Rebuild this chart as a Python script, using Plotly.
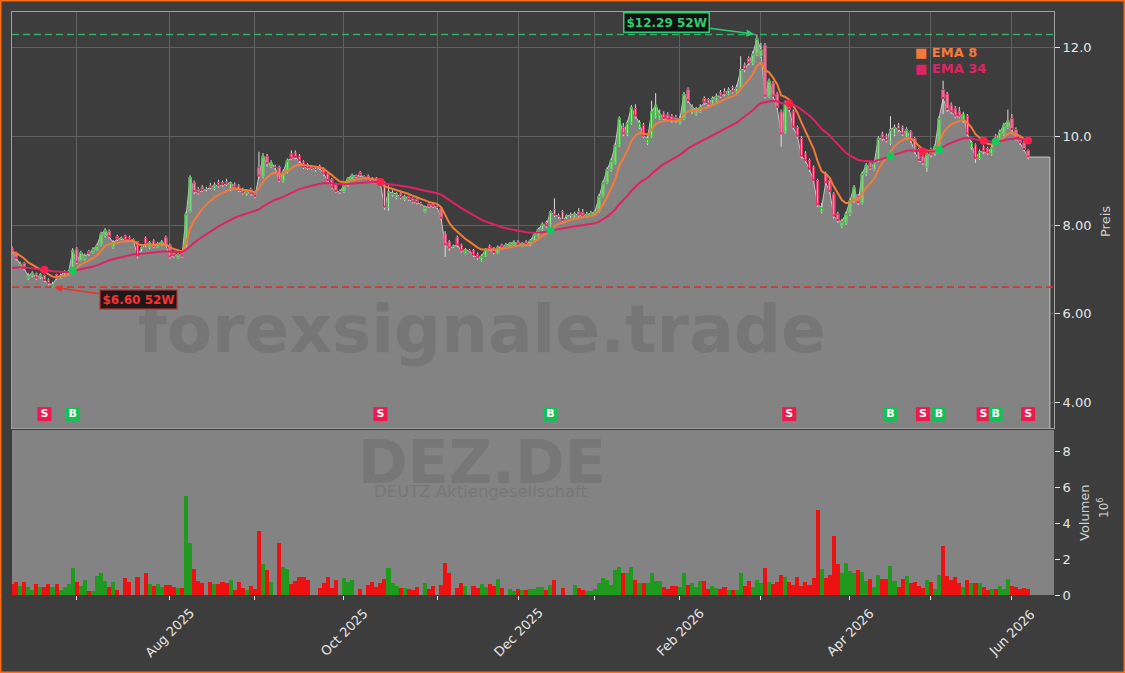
import pandas as pd
import plotly.graph_objects as go

W, H = 1125, 673
FONT = "DejaVu Sans"

# ---------------- data ----------------
first_day = "2025-06-09"
last_day = "2026-06-05"
holidays = ["2025-12-24", "2025-12-25", "2025-12-26", "2025-12-31",
            "2026-01-01", "2026-04-03", "2026-04-06", "2026-05-01"]

open_prices = [
    7.48, 7.38, 7.06, 7.14, 6.80, 6.86, 6.90, 6.82, 6.86, 6.76,
    6.61, 6.88, 6.80, 6.86, 6.88, 6.96, 7.46, 7.20, 7.24, 7.40,
    7.38, 7.44, 7.55, 7.76, 7.86, 7.50, 7.74, 7.70, 7.75, 7.72,
    7.66, 7.62, 7.48, 7.70, 7.50, 7.64, 7.50, 7.55, 7.72, 7.55,
    7.38, 7.26, 7.38, 7.45, 8.30, 8.95, 8.80, 8.85, 8.80, 8.88,
    8.82, 8.96, 8.95, 8.97, 8.80, 8.92, 8.88, 8.80, 8.70, 8.80,
    8.72, 9.30, 9.10, 9.55, 9.32, 9.30, 9.30, 9.00, 9.20, 9.60,
    9.62, 9.55, 9.42, 9.35, 9.28, 9.25, 9.32, 9.25, 9.15, 9.02,
    8.92, 8.75, 8.75, 8.90, 9.02, 9.10, 9.18, 9.08, 9.10, 9.05,
    9.05, 9.02, 8.95, 8.40, 8.68, 8.62, 8.70, 8.58, 8.64, 8.60,
    8.58, 8.48, 8.30, 8.48, 8.48, 8.40, 8.38, 7.80, 7.62, 7.52,
    7.72, 7.55, 7.36, 7.42, 7.42, 7.34, 7.20, 7.30, 7.52, 7.48,
    7.36, 7.55, 7.55, 7.50, 7.55, 7.62, 7.52, 7.62, 7.55, 7.65,
    7.75, 7.90, 8.05, 8.00, 8.35, 8.20, 8.30, 8.20, 8.22, 8.15,
    8.30, 8.28, 8.18, 8.20, 8.22, 8.30, 8.65, 8.95, 9.25, 9.40,
    9.80, 10.20, 10.05, 10.30, 10.62, 10.20, 10.25, 9.85, 10.00, 10.45,
    10.40, 10.50, 10.48, 10.45, 10.42, 10.30, 10.40, 11.05, 10.55, 10.50,
    10.55, 10.85, 10.82, 10.72, 10.80, 10.98, 11.00, 10.95, 11.10, 11.00,
    11.10, 11.60, 11.75, 11.65, 11.85, 11.80, 12.05, 10.90, 11.20, 10.95,
    10.55, 10.10, 10.80, 10.55, 10.20, 9.95, 9.60, 9.45, 9.30, 9.00,
    8.30, 9.15, 9.00, 8.70, 8.25, 7.98, 8.05, 8.25, 8.55, 8.65,
    8.50, 9.15, 9.40, 9.25, 9.45, 10.05, 10.00, 9.85, 10.05, 10.25,
    10.20, 9.95, 10.10, 9.95, 9.70, 9.55, 9.30, 9.70, 9.60, 9.80,
    11.05, 10.95, 10.70, 10.62, 10.55, 10.35, 10.45, 9.75, 9.80, 9.50,
    9.75, 9.72, 9.60, 10.00, 9.95, 10.05, 10.20, 10.40, 10.15, 9.95,
    9.85, 9.68,
]

high_prices = [
    7.52, 7.40, 7.18, 7.16, 6.92, 6.96, 6.93, 6.92, 6.88, 6.80,
    6.72, 6.90, 6.90, 6.98, 6.98, 7.48, 7.50, 7.42, 7.36, 7.44,
    7.50, 7.58, 7.85, 7.93, 7.90, 7.66, 7.78, 7.74, 7.78, 7.76,
    7.70, 7.64, 7.52, 7.74, 7.64, 7.68, 7.62, 7.66, 7.76, 7.58,
    7.42, 7.38, 7.42, 8.30, 9.12, 9.00, 8.86, 8.90, 8.86, 8.95,
    8.96, 9.02, 9.00, 9.04, 8.98, 8.96, 8.92, 8.84, 8.80, 8.84,
    8.76, 9.65, 9.62, 9.60, 9.46, 9.36, 9.34, 9.25, 9.50, 9.68,
    9.68, 9.60, 9.46, 9.40, 9.32, 9.30, 9.36, 9.30, 9.18, 9.06,
    8.95, 8.80, 8.94, 9.08, 9.16, 9.14, 9.22, 9.12, 9.14, 9.08,
    9.08, 9.05, 8.98, 8.92, 8.78, 8.74, 8.74, 8.68, 8.66, 8.62,
    8.60, 8.52, 8.44, 8.52, 8.52, 8.44, 8.40, 7.86, 7.66, 7.56,
    7.76, 7.58, 7.48, 7.46, 7.46, 7.38, 7.34, 7.48, 7.56, 7.50,
    7.54, 7.58, 7.60, 7.62, 7.66, 7.66, 7.62, 7.66, 7.68, 7.82,
    7.94, 8.06, 8.10, 8.34, 8.60, 8.26, 8.34, 8.24, 8.28, 8.30,
    8.38, 8.36, 8.30, 8.32, 8.34, 8.70, 9.00, 9.30, 9.50, 9.85,
    10.45, 10.30, 10.35, 10.70, 10.72, 10.36, 10.30, 10.00, 10.80, 10.97,
    10.60, 10.56, 10.54, 10.50, 10.48, 10.46, 11.00, 11.10, 10.72, 10.66,
    10.72, 10.90, 10.86, 10.90, 10.96, 11.04, 11.08, 11.10, 11.14, 11.16,
    11.80, 11.66, 11.80, 11.92, 12.29, 12.10, 12.10, 11.30, 11.24, 11.00,
    10.60, 10.80, 10.84, 10.60, 10.24, 10.00, 9.66, 9.50, 9.34, 9.04,
    8.50, 9.20, 9.04, 8.74, 8.30, 8.14, 8.30, 8.60, 8.90, 8.70,
    9.20, 9.40, 9.44, 9.45, 10.00, 10.10, 10.06, 10.45, 10.26, 10.30,
    10.24, 10.20, 10.14, 9.98, 9.74, 9.60, 9.65, 9.74, 9.82, 10.45,
    11.25, 11.00, 10.76, 10.68, 10.66, 10.55, 10.50, 9.90, 9.84, 9.70,
    9.80, 9.76, 9.80, 10.05, 10.15, 10.30, 10.60, 10.50, 10.20, 10.00,
    9.90, 9.70,
]

low_prices = [
    7.36, 7.20, 7.02, 6.98, 6.76, 6.82, 6.76, 6.78, 6.72, 6.64,
    6.60, 6.76, 6.78, 6.84, 6.86, 6.92, 7.12, 7.18, 7.20, 7.30,
    7.35, 7.42, 7.52, 7.72, 7.70, 7.46, 7.64, 7.66, 7.62, 7.62,
    7.62, 7.25, 7.40, 7.50, 7.46, 7.48, 7.48, 7.52, 7.52, 7.24,
    7.26, 7.24, 7.26, 7.42, 8.28, 8.70, 8.68, 8.74, 8.76, 8.80,
    8.78, 8.84, 8.86, 8.88, 8.76, 8.82, 8.74, 8.68, 8.66, 8.66,
    8.60, 9.05, 9.05, 9.32, 9.28, 9.24, 8.96, 8.96, 9.16, 9.46,
    9.48, 9.40, 9.26, 9.24, 9.24, 9.20, 9.24, 9.10, 8.96, 8.82,
    8.72, 8.70, 8.72, 8.86, 9.00, 9.06, 9.08, 9.04, 8.96, 8.96,
    8.94, 8.90, 8.34, 8.32, 8.64, 8.58, 8.58, 8.54, 8.54, 8.48,
    8.46, 8.44, 8.28, 8.38, 8.38, 8.36, 8.10, 7.28, 7.42, 7.48,
    7.50, 7.38, 7.34, 7.38, 7.28, 7.22, 7.17, 7.28, 7.42, 7.34,
    7.34, 7.46, 7.52, 7.48, 7.52, 7.52, 7.50, 7.52, 7.52, 7.62,
    7.72, 7.86, 7.94, 7.96, 8.18, 8.14, 8.06, 8.14, 8.16, 8.12,
    8.18, 8.16, 8.16, 8.18, 8.20, 8.28, 8.62, 8.92, 9.20, 9.36,
    9.76, 10.00, 10.00, 10.26, 10.40, 10.16, 9.96, 9.80, 9.96, 10.40,
    10.36, 10.36, 10.34, 10.30, 10.30, 10.26, 10.36, 10.75, 10.50, 10.46,
    10.52, 10.70, 10.66, 10.68, 10.76, 10.86, 10.90, 10.92, 10.96, 10.96,
    11.06, 11.44, 11.60, 11.60, 11.80, 11.76, 10.85, 10.86, 10.86, 10.60,
    9.76, 10.06, 10.55, 10.15, 9.95, 9.50, 9.40, 9.20, 8.96, 8.40,
    8.26, 8.92, 8.70, 8.15, 8.05, 7.93, 8.00, 8.20, 8.50, 8.45,
    8.46, 9.10, 9.24, 9.22, 9.42, 9.90, 9.86, 9.80, 10.00, 10.10,
    10.00, 9.92, 9.86, 9.60, 9.42, 9.35, 9.20, 9.52, 9.56, 9.76,
    10.50, 10.55, 10.50, 10.40, 10.40, 10.30, 10.00, 9.70, 9.40, 9.46,
    9.60, 9.58, 9.56, 9.88, 9.90, 10.00, 10.16, 10.10, 9.90, 9.80,
    9.66, 9.48,
]

close_prices = [
    7.40, 7.25, 7.12, 7.02, 6.85, 6.92, 6.80, 6.88, 6.75, 6.68,
    6.66, 6.80, 6.86, 6.94, 6.95, 7.42, 7.16, 7.38, 7.30, 7.35,
    7.45, 7.54, 7.80, 7.88, 7.74, 7.60, 7.68, 7.70, 7.66, 7.66,
    7.66, 7.30, 7.48, 7.55, 7.60, 7.52, 7.58, 7.62, 7.55, 7.28,
    7.30, 7.34, 7.30, 8.25, 9.08, 8.75, 8.72, 8.78, 8.80, 8.84,
    8.90, 8.88, 8.90, 8.92, 8.95, 8.85, 8.78, 8.72, 8.76, 8.70,
    8.64, 9.10, 9.55, 9.38, 9.40, 9.30, 9.00, 9.20, 9.45, 9.50,
    9.52, 9.45, 9.30, 9.28, 9.28, 9.25, 9.28, 9.15, 9.00, 8.85,
    8.75, 8.75, 8.90, 9.05, 9.12, 9.10, 9.12, 9.08, 9.00, 9.00,
    8.98, 8.95, 8.40, 8.75, 8.72, 8.70, 8.62, 8.65, 8.58, 8.52,
    8.50, 8.48, 8.40, 8.42, 8.42, 8.40, 8.15, 7.55, 7.48, 7.52,
    7.55, 7.42, 7.44, 7.42, 7.32, 7.26, 7.30, 7.45, 7.45, 7.38,
    7.50, 7.50, 7.55, 7.58, 7.62, 7.56, 7.58, 7.56, 7.65, 7.78,
    7.90, 8.02, 7.98, 8.30, 8.22, 8.20, 8.10, 8.20, 8.22, 8.25,
    8.22, 8.20, 8.24, 8.26, 8.30, 8.65, 8.95, 9.25, 9.45, 9.80,
    10.40, 10.05, 10.30, 10.65, 10.45, 10.30, 10.00, 9.95, 10.55, 10.70,
    10.50, 10.40, 10.38, 10.35, 10.35, 10.40, 10.95, 10.80, 10.65, 10.60,
    10.65, 10.75, 10.72, 10.85, 10.90, 10.90, 10.95, 11.05, 11.00, 11.10,
    11.50, 11.50, 11.65, 11.85, 12.20, 11.95, 10.90, 11.25, 10.90, 10.65,
    10.05, 10.75, 10.60, 10.20, 10.00, 9.55, 9.45, 9.25, 9.00, 8.45,
    8.40, 8.95, 8.75, 8.20, 8.10, 8.08, 8.25, 8.55, 8.85, 8.50,
    9.15, 9.35, 9.28, 9.40, 9.95, 9.95, 9.90, 10.15, 10.20, 10.15,
    10.05, 10.15, 9.90, 9.65, 9.45, 9.40, 9.60, 9.58, 9.78, 10.40,
    10.85, 10.60, 10.55, 10.45, 10.45, 10.50, 10.05, 9.85, 9.50, 9.65,
    9.65, 9.62, 9.75, 9.92, 10.10, 10.25, 10.35, 10.15, 9.95, 9.85,
    9.70, 9.53,
]

volume_mn = [
    0.60, 0.70, 0.50, 0.70, 0.45, 0.30, 0.60, 0.45, 0.45, 0.60,
    0.45, 0.60, 0.30, 0.45, 0.60, 1.50, 0.70, 0.50, 0.85, 0.25,
    0.20, 1.05, 1.25, 0.80, 0.45, 0.75, 0.30, 0.00, 0.95, 0.75,
    0.00, 1.00, 0.00, 1.20, 0.60, 0.50, 0.60, 0.45, 0.55, 0.55,
    0.45, 0.40, 0.40, 5.50, 2.90, 1.45, 0.80, 0.65, 0.00, 0.70,
    0.60, 0.60, 0.70, 0.65, 0.85, 0.30, 0.70, 0.40, 0.30, 0.50,
    0.35, 3.55, 1.70, 1.40, 0.70, 0.00, 2.90, 1.55, 1.45, 0.60,
    0.80, 1.00, 1.00, 0.85, 0.00, 0.00, 0.40, 0.65, 1.00, 0.40,
    0.85, 0.00, 0.95, 0.75, 0.85, 0.00, 0.35, 0.00, 0.55, 0.70,
    0.45, 0.65, 0.90, 1.50, 0.65, 0.50, 0.40, 0.40, 0.35, 0.30,
    0.45, 0.00, 0.65, 0.35, 0.50, 0.00, 0.55, 1.80, 1.25, 0.00,
    0.40, 0.65, 0.50, 0.00, 0.50, 0.40, 0.60, 0.45, 0.60, 0.50,
    0.90, 0.40, 0.00, 0.35, 0.20, 0.35, 0.30, 0.30, 0.35, 0.35,
    0.45, 0.45, 0.30, 0.55, 0.85, 0.00, 0.40, 0.00, 0.00, 0.55,
    0.40, 0.30, 0.25, 0.20, 0.35, 0.65, 0.95, 0.85, 0.55, 1.40,
    1.55, 1.25, 1.20, 1.55, 0.85, 0.65, 0.65, 0.65, 1.25, 0.80,
    0.80, 0.45, 0.35, 0.50, 0.50, 0.45, 1.25, 0.55, 0.65, 0.45,
    0.80, 0.80, 0.35, 0.50, 0.40, 0.35, 0.45, 0.30, 0.30, 0.30,
    1.25, 0.50, 0.80, 0.45, 0.85, 0.65, 1.50, 0.75, 0.60, 0.70,
    1.10, 1.00, 0.70, 0.55, 1.00, 0.50, 0.70, 0.55, 0.95, 4.70,
    1.45, 0.95, 1.10, 3.30, 1.70, 1.20, 1.80, 1.35, 1.25, 1.40,
    1.30, 0.80, 0.90, 0.45, 1.10, 0.90, 0.90, 1.60, 0.80, 0.45,
    0.90, 1.05, 0.65, 0.70, 0.50, 0.40, 0.85, 0.70, 0.35, 1.10,
    2.70, 1.05, 0.85, 1.00, 0.65, 0.45, 0.85, 0.65, 0.65, 0.65,
    0.45, 0.30, 0.35, 0.35, 0.50, 0.35, 0.90, 0.50, 0.45, 0.35,
    0.40, 0.35,
]

# EMA starting levels read at the left edge of the chart
ema8_seed = 7.40
ema34_seed = 7.03

# crossover signals (trading-day index, type)
signal_idx = [8, 15, 91, 133, 192, 217, 225, 229, 240, 243, 251]
signal_type = ["S", "B", "S", "B", "S", "B", "S", "B", "S", "B", "S"]
signal_level = 3.74

month_starts = ["2025-07-01", "2025-08-01", "2025-09-01", "2025-10-01", "2025-11-01",
                "2025-12-01", "2026-01-01", "2026-02-01", "2026-03-01", "2026-04-01",
                "2026-05-01", "2026-06-01"]
month_labels = ["", "Aug 2025", "", "Oct 2025", "", "Dec 2025", "", "Feb 2026", "",
                "Apr 2026", "", "Jun 2026"]

price_ticks = [4, 6, 8, 10, 12]
price_tick_text = ["4.00", "6.00", "8.00", "10.0", "12.0"]
volume_ticks = [0, 2, 4, 6, 8]

# ---------------- derived ----------------
dates = pd.bdate_range(first_day, last_day, freq="C", holidays=holidays) + pd.Timedelta(hours=12)
n = len(close_prices)
assert len(dates) == n == len(open_prices) == len(high_prices) == len(low_prices) == len(volume_mn)


def ema(values, span, seed):
    a = 2.0 / (span + 1)
    out, e = [], seed
    for k, v in enumerate(values):
        if k > 0:
            e = e + a * (v - e)
        out.append(e)
    return out


ema8 = ema(close_prices, 8, ema8_seed)
ema34 = ema(close_prices, 34, ema34_seed)

body_hi = [max(o, c) for o, c in zip(open_prices, close_prices)]
body_lo = [min(o, c) for o, c in zip(open_prices, close_prices)]

BG = "#3d3d3d"
AREA = "#838383"
VOL_G = "#1f9a1f"
VOL_R = "#ee1111"
vol_colors = [VOL_G if c > o else (VOL_R if c < o else AREA)
              for o, c in zip(open_prices, close_prices)]

idx_high = max(range(n), key=lambda k: high_prices[k])
idx_low = min(range(n), key=lambda k: low_prices[k])
high_52w = high_prices[idx_high]
low_52w = low_prices[idx_low]

ext_date = dates[-1] + pd.offsets.BDay(5) + pd.Timedelta(hours=9)
x_start = dates[0]
x_end = dates[-1] + pd.offsets.BDay(6) + pd.Timedelta(hours=9, minutes=30)

tick_dates = []
for m in month_starts:
    pos = dates.searchsorted(pd.Timestamp(m))
    tick_dates.append(dates[pos])

rangebreaks = [dict(bounds=["sat", "mon"]), dict(values=holidays)]
PRICE_RANGE = [3.428, 12.797]

# ---------------- figure ----------------
fig = go.Figure()

# grey close area on the base price axis (drawn beneath everything else)
fig.add_trace(go.Scatter(
    x=list(dates) + [ext_date, ext_date], y=close_prices + [close_prices[-1], 0],
    mode="lines", fill="tozeroy", fillcolor=AREA,
    line=dict(color="#c6c6c6", width=1), xaxis="x", yaxis="y", hoverinfo="skip"))

# candles on an overlaying price axis so they sit above the area
fig.add_trace(go.Candlestick(
    x=dates, open=open_prices, high=high_prices, low=low_prices, close=close_prices,
    increasing=dict(line=dict(color="#dcdcdc", width=1), fillcolor="#dcdcdc"),
    decreasing=dict(line=dict(color="#dcdcdc", width=1), fillcolor="#dcdcdc"),
    xaxis="x", yaxis="y3", hoverinfo="skip"))
fig.add_trace(go.Candlestick(
    x=dates, open=open_prices, high=body_hi, low=body_lo, close=close_prices,
    increasing=dict(line=dict(color="#3cb43c", width=1), fillcolor="#9cf09c"),
    decreasing=dict(line=dict(color="#d8245a", width=1), fillcolor="#ffb0c4"),
    xaxis="x", yaxis="y3", hoverinfo="skip"))

fig.add_trace(go.Scatter(x=dates, y=ema8, mode="lines",
                         line=dict(color="#f47a3a", width=2), xaxis="x", yaxis="y3"))
fig.add_trace(go.Scatter(x=dates, y=ema34, mode="lines",
                         line=dict(color="#de2266", width=2), xaxis="x", yaxis="y3"))

sig_x = [dates[k] for k in signal_idx]
sig_ema = [ema34[k] for k in signal_idx]
sig_col = ["#ff1f4b" if t == "S" else "#14c95a" for t in signal_type]
fig.add_trace(go.Scatter(x=sig_x, y=sig_ema, mode="markers",
                         marker=dict(color=sig_col, size=8, line=dict(width=0)),
                         xaxis="x", yaxis="y3"))
fig.add_trace(go.Scatter(
    x=sig_x, y=[signal_level] * len(sig_x), mode="markers+text",
    marker=dict(symbol="square", size=14,
                color=["#f0184c" if t == "S" else "#12c257" for t in signal_type],
                line=dict(width=0)),
    text=signal_type, textposition="middle center",
    textfont=dict(color="white", size=11, family=FONT, weight="bold"),
    xaxis="x", yaxis="y3"))

fig.add_trace(go.Bar(x=dates, y=volume_mn, marker=dict(color=vol_colors, line=dict(width=0)),
                     width=86400000, xaxis="x2", yaxis="y2"))

xdom = [12 / W, 1054 / W]
y1dom = [1 - 428 / H, 1 - 12 / H]
y2dom = [1 - 595 / H, 1 - 430 / H]
TICKC = "#e6e6e6"
GRID = "#616161"
FRAME = "#a0a0a0"

fig.update_layout(
    width=W, height=H, margin=dict(l=0, r=0, t=0, b=0),
    paper_bgcolor=BG, plot_bgcolor=BG, showlegend=False, hovermode=False,
    font=dict(family=FONT, color=TICKC), bargap=0,
    xaxis=dict(domain=xdom, anchor="y", type="date", range=[x_start, x_end],
               rangebreaks=rangebreaks, rangeslider=dict(visible=False),
               tickvals=tick_dates, showticklabels=False, ticks="",
               showgrid=True, gridcolor=GRID, gridwidth=1, zeroline=False,
               showline=True, mirror=True, linecolor=FRAME, linewidth=1),
    yaxis=dict(domain=y1dom, anchor="x", side="right", range=PRICE_RANGE,
               tickvals=price_ticks, ticktext=price_tick_text, ticks="outside",
               ticklen=5, tickcolor=TICKC, tickfont=dict(size=13, color=TICKC),
               showgrid=True, gridcolor=GRID, zeroline=False,
               showline=True, mirror=True, linecolor=FRAME, linewidth=1, automargin=False),
    yaxis3=dict(overlaying="y", anchor="x", side="right", range=PRICE_RANGE,
                visible=False, showgrid=False, zeroline=False),
    xaxis2=dict(domain=xdom, anchor="y2", type="date", range=[x_start, x_end],
                rangebreaks=rangebreaks, rangeslider=dict(visible=False),
                tickvals=tick_dates, ticktext=[""] * len(tick_dates), ticks="outside",
                ticklen=4, tickcolor=TICKC, showgrid=False, zeroline=False, showline=False),
    yaxis2=dict(domain=y2dom, anchor="x2", side="right", range=[0, 9.17],
                tickvals=volume_ticks, ticks="outside", ticklen=5, tickcolor=TICKC,
                tickfont=dict(size=13, color=TICKC), showgrid=False, zeroline=False,
                showline=False, automargin=False),
)

shapes = [
    dict(type="rect", xref="x2 domain", yref="y2 domain", x0=0, x1=1, y0=0, y1=1,
         fillcolor=AREA, line=dict(width=0), layer="below"),
    dict(type="line", xref="x domain", yref="y", x0=0, x1=1, y0=high_52w, y1=high_52w,
         line=dict(color="rgba(46,204,113,0.8)", width=1.5, dash="7px,4px")),
    dict(type="line", xref="x domain", yref="y", x0=0, x1=1, y0=low_52w, y1=low_52w,
         line=dict(color="#cf3a30", width=1.8, dash="7px,4px")),
    dict(type="rect", xref="paper", yref="paper", x0=0, x1=1, y0=0, y1=1,
         line=dict(color="#ff6a13", width=3), fillcolor="rgba(0,0,0,0)", layer="above"),
]
fig.update_layout(shapes=shapes)

ann = []
# watermarks
ann.append(dict(text="<b>forexsignale.trade</b>", xref="paper", yref="paper",
                x=482 / W, y=1 - 329 / H, xanchor="center", yanchor="middle", showarrow=False,
                font=dict(size=66, color="#767676", family=FONT)))
ann.append(dict(text="<b>DEZ.DE</b>", xref="paper", yref="paper",
                x=482 / W, y=1 - 462 / H, xanchor="center", yanchor="middle", showarrow=False,
                font=dict(size=60, color="#777777", family=FONT)))
ann.append(dict(text="DEUTZ Aktiengesellschaft", xref="paper", yref="paper",
                x=481 / W, y=1 - 492 / H, xanchor="center", yanchor="middle", showarrow=False,
                font=dict(size=16.5, color="#777777", family=FONT)))
# legend
ann.append(dict(text="<b>■ EMA 8</b>", xref="paper", yref="paper", x=913 / W, y=1 - 53 / H,
                xanchor="left", yanchor="middle", showarrow=False,
                font=dict(size=13, color="#f47a3a", family=FONT)))
ann.append(dict(text="<b>■ EMA 34</b>", xref="paper", yref="paper", x=913 / W, y=1 - 69 / H,
                xanchor="left", yanchor="middle", showarrow=False,
                font=dict(size=13, color="#de2266", family=FONT)))
# 52W labels
GREEN = "#2ecc71"
RED = "#ff3030"
ann.append(dict(x=dates[idx_high], y=high_52w, xref="x", yref="y",
                text=f"<b>${high_52w:.2f} 52W</b>", showarrow=True, arrowhead=2,
                arrowsize=1, arrowwidth=1.5, arrowcolor=GREEN, ax=-90, ay=-12, standoff=3,
                font=dict(size=12, color=GREEN, family=FONT), bgcolor="#111111",
                bordercolor=GREEN, borderwidth=1.5, borderpad=2))
ann.append(dict(x=dates[idx_low], y=low_52w, xref="x", yref="y",
                text=f"<b>${low_52w:.2f} 52W</b>", showarrow=True, arrowhead=2,
                arrowsize=1, arrowwidth=1.5, arrowcolor="#e8332f", ax=86, ay=12, standoff=2,
                font=dict(size=12, color=RED, family=FONT), bgcolor="#1a1a1a",
                bordercolor="#e8332f", borderwidth=1.5, borderpad=2))
# axis titles
ann.append(dict(text="Preis", xref="paper", yref="paper", x=1106 / W, y=1 - 222 / H,
                xanchor="center", yanchor="middle", textangle=-90, showarrow=False,
                font=dict(size=13, color="#cfcfcf", family=FONT)))
ann.append(dict(text="Volumen", xref="paper", yref="paper", x=1084 / W, y=1 - 513 / H,
                xanchor="center", yanchor="middle", textangle=-90, showarrow=False,
                font=dict(size=13, color="#cfcfcf", family=FONT)))
ann.append(dict(text="10<sup>6</sup>", xref="paper", yref="paper", x=1103 / W, y=1 - 508 / H,
                xanchor="center", yanchor="middle", textangle=-90, showarrow=False,
                font=dict(size=12, color="#cfcfcf", family=FONT)))
# x tick labels
for td, lab in zip(tick_dates, month_labels):
    if lab:
        ann.append(dict(text=lab, x=td, xref="x2", y=1 - 632 / H, yref="paper",
                        textangle=-45, showarrow=False, xanchor="center", yanchor="middle",
                        font=dict(size=13, color=TICKC, family=FONT)))
fig.update_layout(annotations=ann)

fig.write_html("out.html")
